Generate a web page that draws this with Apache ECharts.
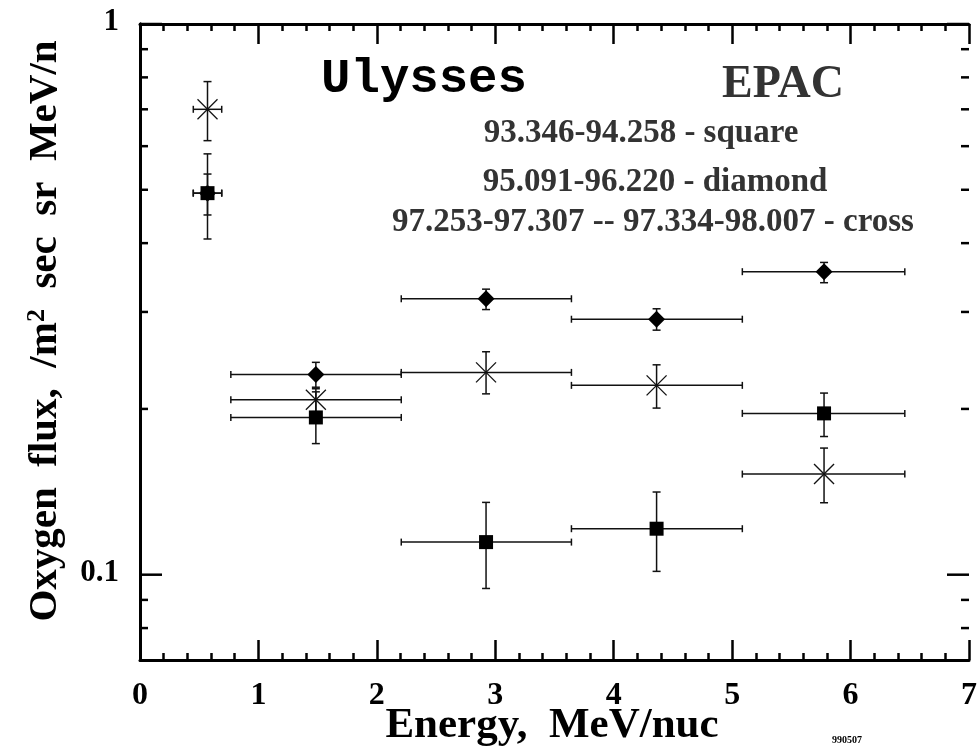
<!DOCTYPE html>
<html>
<head>
    <meta charset="utf-8">
    <title>Ulysses EPAC oxygen flux</title>
    <script src="https://cdn.jsdelivr.net/npm/echarts/dist/echarts.min.js"></script>
    <style>
        html, body { margin: 0; padding: 0; background: #fff; }
    </style>
</head>
<body>
    <div id="main" style="width: 980px;height:748px;"></div>
    <script>
        // energy bins (MeV/nuc): centre and bin edges
        var energy  = [0.57, 1.485, 2.922, 4.362, 5.776];
        var eLow    = [0.45, 0.767, 2.206, 3.643, 5.086];
        var eHigh   = [0.69, 2.206, 3.643, 5.086, 6.458];

        // 93.346-94.258 - square
        var squareVal  = [0.493, 0.193, 0.1146, 0.1212, 0.1963];
        var squareLow  = [0.407, 0.173, 0.0944, 0.1014, 0.1782];
        var squareHigh = [0.581, 0.2148, 0.1353, 0.1413, 0.2137];

        // 95.091-96.220 - diamond
        var diamondVal  = [0.493, 0.231, 0.317, 0.291, 0.355];
        var diamondLow  = [0.450, 0.219, 0.303, 0.278, 0.339];
        var diamondHigh = [0.534, 0.243, 0.330, 0.304, 0.369];

        // 97.253-97.307 -- 97.334-98.007 - cross
        var crossVal  = [0.700, 0.2078, 0.233, 0.2207, 0.1523];
        var crossLow  = [0.614, 0.1977, 0.213, 0.2007, 0.1351];
        var crossHigh = [0.786, 0.2176, 0.254, 0.2405, 0.1698];

        // log axis ticks
        var yMajorTicks = [0.1, 1];
        var yMajorLabels = ['0.1', '1'];
        var yMinorTicks = [0.08, 0.09, 0.2, 0.3, 0.4, 0.5, 0.6, 0.7, 0.8, 0.9];

        var serif = '"Liberation Serif", "DejaVu Serif", serif';

        function rows(vals, lo, hi) {
            return energy.map(function (e, i) {
                return [e, vals[i], eLow[i], eHigh[i], lo[i], hi[i]];
            });
        }

        function errRender(shape) {
            return function (params, api) {
                var x = api.value(0), y = api.value(1);
                var c = api.coord([x, y]);
                var pl = api.coord([api.value(2), y]);
                var ph = api.coord([api.value(3), y]);
                var pb = api.coord([x, api.value(4)]);
                var pt = api.coord([x, api.value(5)]);
                var st = { stroke: '#111', lineWidth: 1.5 };
                var kids = [
                    { type: 'line', shape: { x1: pl[0], y1: c[1], x2: ph[0], y2: c[1] }, style: st },
                    { type: 'line', shape: { x1: pl[0], y1: c[1] - 3.5, x2: pl[0], y2: c[1] + 3.5 }, style: st },
                    { type: 'line', shape: { x1: ph[0], y1: c[1] - 3.5, x2: ph[0], y2: c[1] + 3.5 }, style: st },
                    { type: 'line', shape: { x1: c[0], y1: pt[1], x2: c[0], y2: pb[1] }, style: st },
                    { type: 'line', shape: { x1: c[0] - 4, y1: pt[1], x2: c[0] + 4, y2: pt[1] }, style: st },
                    { type: 'line', shape: { x1: c[0] - 4, y1: pb[1], x2: c[0] + 4, y2: pb[1] }, style: st }
                ];
                if (shape === 'square') {
                    kids.push({ type: 'rect', shape: { x: c[0] - 7, y: c[1] - 7, width: 14, height: 14 }, style: { fill: '#000' } });
                } else if (shape === 'diamond') {
                    kids.push({ type: 'polygon', shape: { points: [[c[0], c[1] - 8.5], [c[0] + 8.5, c[1]], [c[0], c[1] + 8.5], [c[0] - 8.5, c[1]]] }, style: { fill: '#000' } });
                } else {
                    var cs = { stroke: '#111', lineWidth: 1.3 };
                    kids.push({ type: 'line', shape: { x1: c[0] - 10, y1: c[1] - 10, x2: c[0] + 10, y2: c[1] + 10 }, style: cs });
                    kids.push({ type: 'line', shape: { x1: c[0] - 10, y1: c[1] + 10, x2: c[0] + 10, y2: c[1] - 10 }, style: cs });
                }
                return { type: 'group', children: kids };
            };
        }

        function tickRender(len, labels) {
            return function (params, api) {
                var g = params.coordSys;
                var p = api.coord([0, api.value(1)]);
                var st = { stroke: '#000', lineWidth: 2.5 };
                var kids = [
                    { type: 'line', shape: { x1: g.x, y1: p[1], x2: g.x + len, y2: p[1] }, style: st },
                    { type: 'line', shape: { x1: g.x + g.width - len, y1: p[1], x2: g.x + g.width, y2: p[1] }, style: st }
                ];
                if (labels) {
                    kids.push({
                        type: 'text',
                        style: {
                            text: labels[params.dataIndex], x: g.x - 21, y: p[1] - 2,
                            align: 'right', verticalAlign: 'middle',
                            fill: '#000', fontFamily: serif, fontWeight: 'bold', fontSize: 31
                        }
                    });
                }
                return { type: 'group', children: kids };
            };
        }

        var myChart = echarts.init(document.getElementById('main'));

        var xAxisBase = {
            type: 'value', min: 0, max: 7, interval: 1,
            axisLine: { lineStyle: { color: '#000', width: 3 } },
            axisTick: { inside: true, length: 20, lineStyle: { color: '#000', width: 2.5 } },
            minorTick: { show: true, splitNumber: 5, length: 7, lineStyle: { color: '#000', width: 2.5 } },
            splitLine: { show: false }
        };
        var yAxisBase = {
            type: 'log', logBase: 10, min: 0.07, max: 1,
            axisLine: { show: true, lineStyle: { color: '#000', width: 3 } },
            axisTick: { show: false },
            axisLabel: { show: false },
            splitLine: { show: false }
        };

        var option = {
            animation: false,
            backgroundColor: '#fff',
            grid: { left: 140, right: 10, top: 24, bottom: 88 },
            xAxis: [
                Object.assign({}, xAxisBase, {
                    position: 'bottom',
                    axisLabel: { margin: 20, color: '#000', fontFamily: serif, fontWeight: 'bold', fontSize: 32 }
                }),
                Object.assign({}, xAxisBase, { position: 'top', axisLabel: { show: false } })
            ],
            yAxis: [
                Object.assign({}, yAxisBase, { position: 'left' }),
                Object.assign({}, yAxisBase, { position: 'right' })
            ],
            graphic: [
                { type: 'text', style: { text: 'Ulysses', x: 424, y: 80, align: 'center', verticalAlign: 'middle', fill: '#000', font: 'bold 49px "Liberation Mono", monospace' } },
                { type: 'text', style: { text: 'EPAC', x: 783, y: 85, align: 'center', verticalAlign: 'middle', fill: '#333', font: 'bold 46px ' + serif } },
                { type: 'text', style: { text: '93.346-94.258 - square', x: 641, y: 133, align: 'center', verticalAlign: 'middle', fill: '#333', font: 'bold 33px ' + serif } },
                { type: 'text', style: { text: '95.091-96.220 - diamond', x: 655, y: 182, align: 'center', verticalAlign: 'middle', fill: '#333', font: 'bold 33px ' + serif } },
                { type: 'text', style: { text: '97.253-97.307 -- 97.334-98.007 - cross', x: 653, y: 222, align: 'center', verticalAlign: 'middle', fill: '#333', font: 'bold 33px ' + serif } },
                { type: 'text', style: { text: 'Energy,  MeV/nuc', x: 552, y: 726, align: 'center', verticalAlign: 'middle', fill: '#000', font: 'bold 43px ' + serif } },
                { type: 'text', style: { text: '990507', x: 847, y: 740, align: 'center', verticalAlign: 'middle', fill: '#000', font: 'bold 10px ' + serif } },
                {
                    type: 'text', x: 45, y: 331, rotation: Math.PI / 2,
                    style: {
                        text: '{a|Oxygen  flux,  /m}{s|2}{a|  sec  sr  MeV/n}',
                        align: 'center', verticalAlign: 'middle', fill: '#000',
                        rich: {
                            a: { fontFamily: serif, fontWeight: 'bold', fontSize: 41, fill: '#000' },
                            s: { fontFamily: serif, fontWeight: 'bold', fontSize: 26, verticalAlign: 'top', fill: '#000' }
                        }
                    }
                }
            ],
            series: [
                { type: 'custom', name: 'cross', renderItem: errRender('cross'), data: rows(crossVal, crossLow, crossHigh), z: 3 },
                { type: 'custom', name: 'diamond', renderItem: errRender('diamond'), data: rows(diamondVal, diamondLow, diamondHigh), z: 4 },
                { type: 'custom', name: 'square', renderItem: errRender('square'), data: rows(squareVal, squareLow, squareHigh), z: 5 },
                { type: 'custom', name: 'yMajor', renderItem: tickRender(22, yMajorLabels), clip: false, silent: true, data: yMajorTicks.map(function (v) { return [0, v]; }) },
                { type: 'custom', name: 'yMinor', renderItem: tickRender(8), clip: false, silent: true, data: yMinorTicks.map(function (v) { return [0, v]; }) }
            ]
        };

        myChart.setOption(option);
    </script>
</body>
</html>
